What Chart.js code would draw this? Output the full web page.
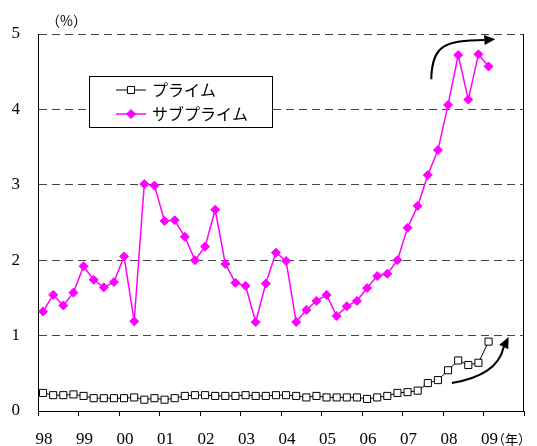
<!DOCTYPE html>
<html>
<head>
    <meta charset="utf-8">
    <title>プライム・サブプライム</title>
    <script src="https://cdn.jsdelivr.net/npm/chart.js"></script>
    <style>
        body { margin: 0; background: #fff; }
    </style>
</head>
<body>
    <canvas id="chart" width="537" height="446"></canvas>

    <script>
        // x axis: one label per year, 1998 .. 2009
        const firstYear = 1998;
        const yearLabels = ['98', '99', '00', '01', '02', '03', '04', '05', '06', '07', '08', '09'];
        const seriesNames = ['プライム', 'サブプライム'];

        // quarterly values (%), 98Q1 .. 09Q1
        const prime = [
            0.24, 0.21, 0.21, 0.22, 0.20, 0.17, 0.17, 0.17, 0.17, 0.18, 0.15, 0.17,
            0.15, 0.17, 0.20, 0.21, 0.21, 0.20, 0.20, 0.20, 0.21, 0.20, 0.20, 0.21,
            0.21, 0.20, 0.18, 0.20, 0.18, 0.18, 0.18, 0.18, 0.16, 0.18, 0.20, 0.24,
            0.25, 0.27, 0.37, 0.41, 0.54, 0.67, 0.61, 0.64, 0.92
        ];
        const subprime = [
            1.32, 1.54, 1.40, 1.57, 1.92, 1.74, 1.64, 1.71, 2.05, 1.19, 3.01, 2.99,
            2.52, 2.53, 2.31, 2.00, 2.18, 2.67, 1.95, 1.70, 1.66, 1.18, 1.69, 2.10,
            1.99, 1.18, 1.34, 1.46, 1.54, 1.26, 1.39, 1.46, 1.63, 1.79, 1.82, 2.00,
            2.43, 2.72, 3.13, 3.46, 4.06, 4.72, 4.13, 4.73, 4.57
        ];

        // each quarter sits in the middle of its slot inside the year
        const toPoints = values => values.map((v, i) => ({ x: firstYear + (i + 0.5) / 4, y: v }));

        // trend arrows, in data units (year, %)
        const arrows = [
            { from: [2007.71, 4.40], c1: [2007.73, 4.86], c2: [2008.05, 4.91], to: [2009.02, 4.92], tip: [2009.29, 4.93] },
            { from: [2008.22, 0.37], c1: [2008.95, 0.44], c2: [2009.38, 0.58], to: [2009.50, 0.85], tip: [2009.62, 0.98] }
        ];

        const serif = '"Liberation Serif"';
        const jp = '"Noto Sans CJK JP"';

        const drawMarker = (ctx, ds, x, y) => {
            ctx.fillStyle = ds.pointBackgroundColor;
            ctx.strokeStyle = ds.pointBorderColor;
            ctx.lineWidth = ds.pointBorderWidth;
            Chart.helpers.drawPoint(ctx, {
                pointStyle: ds.pointStyle,
                radius: ds.pointRadius,
                borderWidth: ds.pointBorderWidth
            }, x, y);
        };

        const extras = {
            id: 'extras',
            afterDraw(chart) {
                const ctx = chart.ctx;
                const area = chart.chartArea;
                const xs = chart.scales.x;
                const ys = chart.scales.y;
                const px = p => [xs.getPixelForValue(p[0]), ys.getPixelForValue(p[1])];

                ctx.save();

                // right frame line
                ctx.strokeStyle = '#000';
                ctx.lineWidth = 1;
                ctx.beginPath();
                ctx.moveTo(area.right - 0.5, area.top);
                ctx.lineTo(area.right - 0.5, area.bottom);
                ctx.stroke();

                // unit labels
                ctx.fillStyle = '#000';
                ctx.textBaseline = 'middle';
                ctx.textAlign = 'left';
                ctx.font = '14px ' + jp;
                ctx.fillText('（%）', area.left + 8, area.top - 13);
                ctx.font = '13px ' + jp;
                ctx.fillText('（年）', area.right - 32, area.bottom + 28);

                // arrows
                arrows.forEach(a => {
                    const f = px(a.from), c1 = px(a.c1), c2 = px(a.c2), t = px(a.to), tip = px(a.tip);
                    ctx.strokeStyle = '#000';
                    ctx.lineWidth = 2;
                    ctx.beginPath();
                    ctx.moveTo(f[0], f[1]);
                    ctx.bezierCurveTo(c1[0], c1[1], c2[0], c2[1], t[0], t[1]);
                    ctx.stroke();
                    const dx = tip[0] - t[0], dy = tip[1] - t[1];
                    const len = Math.hypot(dx, dy);
                    const nx = -dy / len * 5, ny = dx / len * 5;
                    ctx.fillStyle = '#000';
                    ctx.beginPath();
                    ctx.moveTo(tip[0], tip[1]);
                    ctx.lineTo(t[0] + nx, t[1] + ny);
                    ctx.lineTo(t[0] - nx, t[1] - ny);
                    ctx.closePath();
                    ctx.fill();
                });

                // legend box
                const lx = area.left + 51, ly = area.top + 42, lw = 183, lh = 51;
                ctx.fillStyle = '#fff';
                ctx.fillRect(lx, ly, lw, lh);
                ctx.strokeStyle = '#000';
                ctx.lineWidth = 1;
                ctx.strokeRect(lx + 0.5, ly + 0.5, lw, lh);

                chart.data.datasets.forEach((ds, i) => {
                    const y = ly + 14 + i * 24;
                    ctx.strokeStyle = ds.borderColor;
                    ctx.lineWidth = ds.borderWidth;
                    ctx.beginPath();
                    ctx.moveTo(lx + 27, y);
                    ctx.lineTo(lx + 57, y);
                    ctx.stroke();
                    drawMarker(ctx, ds, lx + 42, y);
                    ctx.fillStyle = '#000';
                    ctx.font = '16px ' + jp;
                    ctx.fillText(ds.label, lx + 63, y);
                });

                ctx.restore();
            }
        };

        new Chart(document.getElementById('chart'), {
            type: 'line',
            data: {
                datasets: [
                    {
                        label: seriesNames[0],
                        data: toPoints(prime),
                        borderColor: '#000',
                        borderWidth: 1,
                        pointStyle: 'rect',
                        pointRadius: 5,
                        pointBorderWidth: 1,
                        pointBackgroundColor: '#fff',
                        pointBorderColor: '#000',
                        tension: 0
                    },
                    {
                        label: seriesNames[1],
                        data: toPoints(subprime),
                        borderColor: '#ff00ff',
                        borderWidth: 1.5,
                        pointStyle: 'rectRot',
                        pointRadius: 4.5,
                        pointBorderWidth: 1,
                        pointBackgroundColor: '#ff00ff',
                        pointBorderColor: '#ff00ff',
                        tension: 0
                    }
                ]
            },
            options: {
                responsive: false,
                animation: false,
                layout: { padding: { top: 34, right: 7, left: 0, bottom: 0 } },
                plugins: {
                    legend: { display: false },
                    tooltip: { enabled: false }
                },
                scales: {
                    x: {
                        type: 'linear',
                        min: firstYear,
                        max: firstYear + yearLabels.length,
                        afterFit: s => { s.height = 35; },
                        afterBuildTicks: s => {
                            s.ticks = [];
                            for (let i = 0; i <= yearLabels.length; i++) s.ticks.push({ value: firstYear + i });
                        },
                        ticks: {
                            autoSkip: false,
                            maxRotation: 0,
                            padding: 13,
                            labelOffset: 6,
                            color: '#000',
                            font: { family: serif, size: 17 },
                            callback: v => yearLabels[v - firstYear] || ''
                        },
                        grid: {
                            drawOnChartArea: false,
                            drawTicks: true,
                            tickLength: 5,
                            tickColor: '#000'
                        },
                        border: { color: '#000', width: 1 }
                    },
                    y: {
                        min: 0,
                        max: 5,
                        afterFit: s => { s.width = 38; },
                        ticks: {
                            stepSize: 1,
                            padding: 18,
                            color: '#000',
                            font: { family: serif, size: 17 }
                        },
                        grid: {
                            drawTicks: false,
                            color: c => c.tick && c.tick.value === 0 ? 'rgba(0,0,0,0)' : '#444'
                        },
                        border: { color: '#000', width: 1, dash: [8, 5] }
                    }
                }
            },
            plugins: [extras]
        });
    </script>
</body>
</html>
